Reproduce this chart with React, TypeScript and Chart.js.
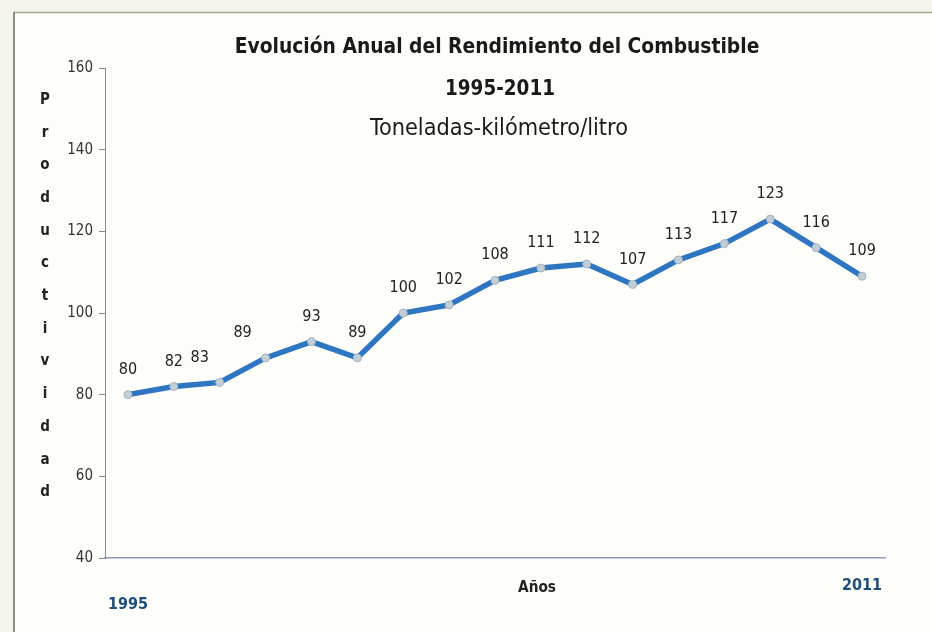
import React, { useEffect, useRef } from "react";
import { Chart, registerables } from "chart.js";

Chart.register(...registerables);

// ---- data ----
const years: string[] = [
  "1995", "1996", "1997", "1998", "1999", "2000", "2001", "2002", "2003",
  "2004", "2005", "2006", "2007", "2008", "2009", "2010", "2011",
];
const productividad: number[] = [
  80, 82, 83, 89, 93, 89, 100, 102, 108, 111, 112, 107, 113, 117, 123, 116, 109,
];
const yTicks = { min: 40, max: 160, step: 20 };
const titleMain = "Evolución Anual del Rendimiento del Combustible";
const titleYears = "1995-2011";
const titleUnits = "Toneladas-kilómetro/litro";
const yAxisTitle = "Productividad";
const xAxisTitle = "Años";

// label nudges (style only)
const labelNudgeX: number[] = [0, 0, -20, -23, 0, 0, 0, 0, 0, 0, 0, 0, 0, 0, 0, 0, 0];

const NARROW = "'Liberation Sans Narrow', 'DejaVu Sans Condensed', 'Open Sans', sans-serif";

function fitText(
  ctx: CanvasRenderingContext2D,
  text: string,
  weight: string,
  targetW: number,
  x: number,
  y: number,
  color: string
) {
  ctx.font = `${weight} 24px ${NARROW}`;
  const w = ctx.measureText(text).width;
  const size = (24 * targetW) / w;
  ctx.font = `${weight} ${size.toFixed(2)}px ${NARROW}`;
  ctx.fillStyle = color;
  ctx.textAlign = "center";
  ctx.textBaseline = "middle";
  ctx.fillText(text, x, y);
}

const framePlugin = {
  id: "frame",
  beforeDraw(chart: any) {
    const { ctx, width, height } = chart;
    ctx.save();
    ctx.fillStyle = "#f5f4ec";
    ctx.fillRect(0, 0, width, height);
    ctx.fillStyle = "#fdfdfa";
    ctx.fillRect(14, 12, width - 14, height - 12);
    ctx.strokeStyle = "#a6a97f";
    ctx.lineWidth = 1.5;
    ctx.beginPath();
    ctx.moveTo(14, 12.5);
    ctx.lineTo(width, 12.5);
    ctx.stroke();
    ctx.strokeStyle = "#8a8a8a";
    ctx.lineWidth = 2;
    ctx.beginPath();
    ctx.moveTo(14, 12);
    ctx.lineTo(14, height);
    ctx.stroke();
    ctx.restore();
  },
};

const textPlugin = {
  id: "texts",
  afterDraw(chart: any) {
    const { ctx } = chart;
    ctx.save();
    fitText(ctx, titleMain, "bold", 525, 497, 48, "#1a1a1a");
    fitText(ctx, titleYears, "bold", 110, 500, 90, "#1a1a1a");
    fitText(ctx, titleUnits, "normal", 258, 499, 129, "#1a1a1a");
    fitText(ctx, xAxisTitle, "bold", 38, 537, 588, "#222");

    // stacked vertical axis title
    ctx.font = `bold 15px ${NARROW}`;
    ctx.fillStyle = "#222";
    ctx.textAlign = "center";
    ctx.textBaseline = "middle";
    const letters = yAxisTitle.split("");
    letters.forEach((ch, i) => {
      ctx.fillText(ch, 45, 100 + i * 32.7);
    });

    // data labels
    const meta = chart.getDatasetMeta(0);
    ctx.font = `16px ${NARROW}`;
    ctx.fillStyle = "#222";
    meta.data.forEach((pt: any, i: number) => {
      const v = chart.data.datasets[0].data[i];
      ctx.fillText(String(v), pt.x + (labelNudgeX[i] || 0), pt.y - 25);
    });
    ctx.restore();
  },
};

export default function App() {
  const ref = useRef<HTMLCanvasElement | null>(null);

  useEffect(() => {
    document.body.style.margin = "0";
    const canvas = ref.current;
    if (!canvas) return;
    const chart = new Chart(canvas, {
      type: "line",
      data: {
        labels: years,
        datasets: [
          {
            data: productividad,
            borderColor: "#2e75c2",
            borderWidth: 5.5,
            tension: 0,
            pointRadius: 4,
            pointBackgroundColor: "#c3ced6",
            pointBorderColor: "#a3b4c2",
            pointBorderWidth: 1,
          },
        ],
      },
      options: {
        responsive: false,
        animation: false,
        layout: { padding: { left: 0, right: 47, top: 68, bottom: 0 } },
        plugins: {
          legend: { display: false },
          tooltip: { enabled: false },
          title: { display: false },
        },
        scales: {
          x: {
            offset: true,
            grid: { display: false, drawTicks: false, tickLength: 0 },
            border: { display: true, color: "#8c9db3", width: 1.5 },
            ticks: {
              autoSkip: false,
              maxRotation: 0,
              padding: 18,
              color: "#1f4e79",
              font: { family: NARROW, size: 16, weight: "bold" },
              callback: (_v: any, i: number) => {
                if (i === 0) return ["", years[0]];
                if (i === years.length - 1) return years[years.length - 1];
                return "";
              },
            },
            afterFit: (s: any) => {
              s.height = 74;
            },
          },
          y: {
            min: yTicks.min,
            max: yTicks.max,
            grid: {
              drawOnChartArea: false,
              drawTicks: true,
              tickLength: 6,
              color: "#888",
            },
            border: { display: true, color: "#8a8a8a", width: 1 },
            ticks: {
              stepSize: yTicks.step,
              padding: 6,
              color: "#333",
              font: { family: NARROW, size: 15 },
            },
            afterFit: (s: any) => {
              s.width = 105;
            },
          },
        },
      },
      plugins: [framePlugin, textPlugin],
    } as any);
    return () => chart.destroy();
  }, []);

  return (
    <div style={{ width: 932, height: 632 }}>
      <canvas ref={ref} width={932} height={632} style={{ display: "block" }} />
    </div>
  );
}
